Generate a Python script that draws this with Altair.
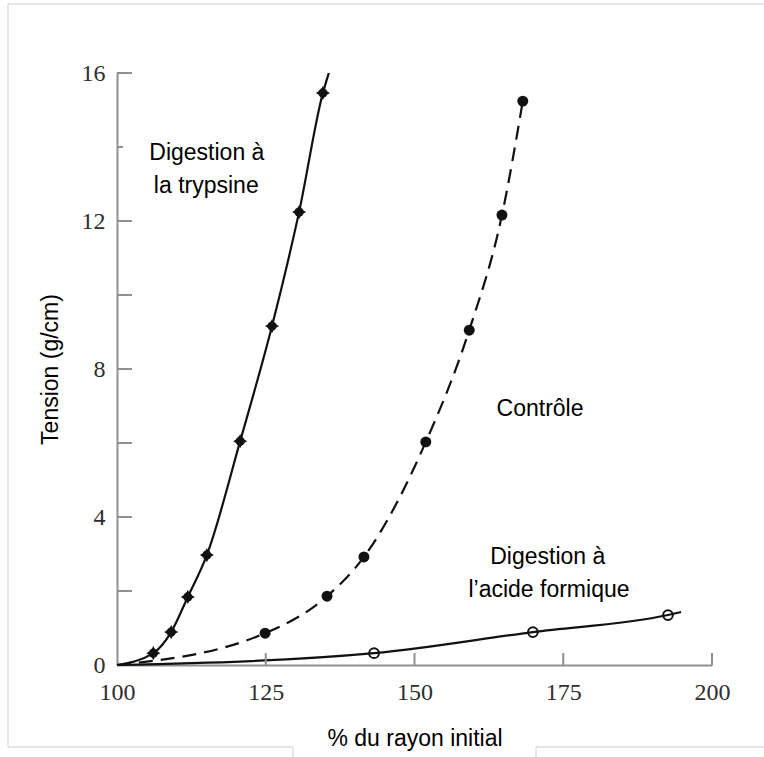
import altair as alt
import pandas as pd

# ---- data ----
tryp_x = [106.1, 109.1, 111.9, 115.1, 120.7, 126.05, 130.6, 134.6]
tryp_y = [0.32, 0.89, 1.84, 2.97, 6.05, 9.16, 12.24, 15.46]
tryp_start = (100.0, 0.0)
tryp_end = (135.6, 16.0)

ctrl_x = [124.9, 135.3, 141.5, 151.9, 159.2, 164.7, 168.2]
ctrl_y = [0.86, 1.86, 2.92, 6.03, 9.05, 12.16, 15.24]
ctrl_start = (100.0, 0.0)

form_x = [143.2, 169.9, 192.6]
form_y = [0.32, 0.89, 1.35]
form_start = (100.0, 0.0)
form_end = (194.8, 1.43)

x_ticks = [100, 125, 150, 175, 200]
y_ticks = [0, 4, 8, 12, 16]
y_long_ticks = [2, 4, 6, 8, 10, 12, 16]
y_short_ticks = [14]
x_inner_ticks = [125, 150, 175, 200]

label_text = ["Digestion à", "la trypsine", "Contrôle", "Digestion à", "l\u2019acide formique"]
label_x = [115.1, 115.0, 171.1, 172.4, 172.6]
label_y = [13.65, 12.76, 6.73, 2.73, 1.84]

# ---- tables ----
def line_df(xs, ys, start=None, end=None):
    pts = list(zip(xs, ys))
    if start:
        pts = [start] + pts
    if end:
        pts = pts + [end]
    return pd.DataFrame({"x": [p[0] for p in pts], "y": [p[1] for p in pts], "o": range(len(pts))})

tryp_line = line_df(tryp_x, tryp_y, tryp_start, tryp_end)
ctrl_line = line_df(ctrl_x, ctrl_y, ctrl_start)
form_line = line_df(form_x, form_y, form_start, form_end)

tryp_pts = pd.DataFrame({"x": tryp_x, "y": tryp_y})
ctrl_pts = pd.DataFrame({"x": ctrl_x, "y": ctrl_y})
form_pts = pd.DataFrame({"x": form_x, "y": form_y})
labels = pd.DataFrame({"t": label_text, "x": label_x, "y": label_y})

xs = alt.Scale(domain=[100, 200], nice=False, zero=False)
ys = alt.Scale(domain=[0, 16], nice=False, zero=False)

AX_COL = "#8f8f8f"
LBL_COL = "#2e2e2e"

X = alt.X("x:Q", scale=xs, axis=alt.Axis(
    values=x_ticks, title="% du rayon initial", ticks=False, grid=False,
    domainColor=AX_COL, domainWidth=2,
    labelFont="Liberation Serif", labelFontSize=24, labelColor=LBL_COL, labelPadding=15,
    labelFlush=False,
    titleFont="Liberation Sans", titleFontSize=23, titleFontWeight="normal", titleColor="black",
    titleBaseline="alphabetic", titleY=80))
Y = alt.Y("y:Q", scale=ys, axis=alt.Axis(
    values=y_ticks, title="Tension (g/cm)", ticks=False, grid=False,
    domainColor=AX_COL, domainWidth=2,
    labelFont="Liberation Serif", labelFontSize=24, labelColor=LBL_COL, labelPadding=12,
    labelFlush=False,
    titleFont="Liberation Sans", titleFontSize=23, titleFontWeight="normal", titleColor="black",
    titleBaseline="middle", titleX=-67))

line_col = "#111111"

l1 = alt.Chart(tryp_line).mark_line(color=line_col, strokeWidth=2.2, interpolate="monotone").encode(
    x=X, y=Y, order="o:Q")
l2 = alt.Chart(ctrl_line).mark_line(color=line_col, strokeWidth=2.2, strokeDash=[14, 8],
                                    interpolate="monotone").encode(x="x:Q", y="y:Q", order="o:Q")
l3 = alt.Chart(form_line).mark_line(color=line_col, strokeWidth=2.2, interpolate="monotone").encode(
    x="x:Q", y="y:Q", order="o:Q")

star = "M0,-1L0.32,-0.38L1,0L0.32,0.38L0,1L-0.32,0.38L-1,0L-0.32,-0.38Z"
p1a = alt.Chart(tryp_pts).mark_point(shape="circle", filled=True, color=line_col, size=85, opacity=1).encode(
    x="x:Q", y="y:Q")
p1b = alt.Chart(tryp_pts).mark_point(shape=star, filled=True, color=line_col, size=200, opacity=1).encode(
    x="x:Q", y="y:Q")
p2 = alt.Chart(ctrl_pts).mark_point(shape="circle", filled=True, color=line_col, size=120, opacity=1).encode(
    x="x:Q", y="y:Q")
p3 = alt.Chart(form_pts).mark_point(shape="circle", filled=False, color=line_col, size=95,
                                    strokeWidth=2, opacity=1).encode(x="x:Q", y="y:Q")

txt = alt.Chart(labels).mark_text(font="Liberation Sans", fontSize=23, color="black",
                                  align="center", baseline="alphabetic").encode(
    x="x:Q", y="y:Q", text="t:N")

# inward ticks
yt_long = alt.Chart(pd.DataFrame({"y": y_long_ticks})).mark_rule(color=AX_COL, strokeWidth=2).encode(
    y="y:Q", x=alt.value(0), x2=alt.value(15))
yt_short = alt.Chart(pd.DataFrame({"y": y_short_ticks})).mark_rule(color=AX_COL, strokeWidth=2).encode(
    y="y:Q", x=alt.value(0), x2=alt.value(6))
xt = alt.Chart(pd.DataFrame({"x": x_inner_ticks})).mark_rule(color=AX_COL, strokeWidth=2).encode(
    x="x:Q", y=alt.value(592), y2=alt.value(580))

# faint frame around the figure
FR = "#cfcfcf"
f_top = alt.Chart().mark_rule(color=FR, strokeWidth=1).encode(x=alt.value(-109), x2=alt.value(647), y=alt.value(-69))
f_left = alt.Chart().mark_rule(color=FR, strokeWidth=1).encode(x=alt.value(-109), y=alt.value(-69), y2=alt.value(674))
f_b1 = alt.Chart().mark_rule(color=FR, strokeWidth=1).encode(x=alt.value(-109), x2=alt.value(176), y=alt.value(674))
f_b2 = alt.Chart().mark_rule(color=FR, strokeWidth=1).encode(x=alt.value(419), x2=alt.value(647), y=alt.value(674))
f_v1 = alt.Chart().mark_rule(color=FR, strokeWidth=1).encode(x=alt.value(176), y=alt.value(674), y2=alt.value(684))
f_v2 = alt.Chart().mark_rule(color=FR, strokeWidth=1).encode(x=alt.value(419), y=alt.value(674), y2=alt.value(684))

chart = alt.layer(
    l1, l2, l3, yt_long, yt_short, xt, p1a, p1b, p2, p3, txt,
    f_top, f_left, f_b1, f_b2, f_v1, f_v2
).properties(
    width=595, height=592,
    autosize=alt.AutoSizeParams(type="none"),
    padding={"left": 117, "top": 73, "right": 52, "bottom": 92},
    background="white",
).configure_view(stroke=None)

chart.save("out.html", embed_options={"renderer": "svg", "actions": False})
